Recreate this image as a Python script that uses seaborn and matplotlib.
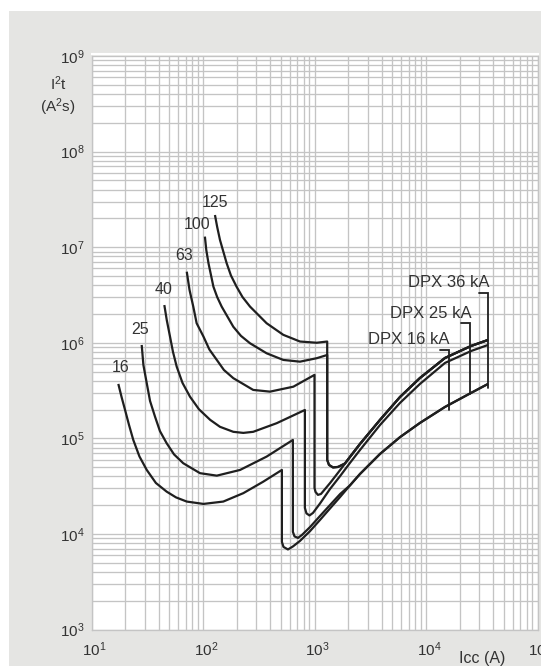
import matplotlib
matplotlib.use("Agg")
import matplotlib.pyplot as plt
from matplotlib.patches import Rectangle
from matplotlib.ticker import LogLocator, LogFormatterSciNotation, NullFormatter
import matplotlib.transforms as mtransforms
import numpy as np
import pandas as pd
import seaborn as sns

# ---------------------------------------------------------------------------
# Let-through energy I²t (A²s) against prospective short-circuit current Icc (A)
# for MCB ratings 16 ... 125 A behind DPX breakers.
# ---------------------------------------------------------------------------

# Current-limiting strands shared by several ratings (high-current part)
strand_icc = [1380, 1700, 2080, 2560, 3870, 5850, 8830, 14800, 25400, 36000]
strand_low_i2t = [1.85e4, 2.44e4, 3.22e4, 4.24e4, 6.87e4, 1.03e5, 1.45e5, 2.13e5, 2.99e5, 3.71e5]
strand_mid_i2t = [2.96e4, 4.04e4, 5.53e4, 7.56e4, 1.38e5, 2.35e5, 3.71e5, 6.15e5, 8.20e5, 9.48e5]
strand_high_i2t = [3.41e4, 4.67e4, 6.39e4, 8.74e4, 1.56e5, 2.71e5, 4.28e5, 6.93e5, 9.26e5, 1.07e6]

# Rating-specific parts (overload branch, peak, instantaneous drop, hook)
icc_16 = [17.4, 18.6, 20.0, 21.7, 23.7, 26.9, 31.3, 37.8, 47.2, 57.3, 71.5, 101, 152, 230, 347, 510,
          510, 527, 578, 641, 741, 912, 1120]
i2t_16 = [3.71e5, 2.71e5, 1.98e5, 1.38e5, 9.62e4, 6.47e4, 4.67e4, 3.41e4, 2.77e4, 2.41e4, 2.18e4,
          2.06e4, 2.18e4, 2.67e4, 3.52e4, 4.67e4,
          8.25e3, 7.31e3, 6.88e3, 7.40e3, 8.45e3, 1.07e4, 1.40e4]

icc_25 = [28.2, 29.2, 31.3, 33.5, 37.1, 41.1, 47.2, 55.0, 66.5, 94.0, 133, 215, 372, 640,
          640, 662, 711, 773, 912, 1120, 1380, 1700]
i2t_25 = [9.48e5, 5.86e5, 3.77e5, 2.46e5, 1.69e5, 1.19e5, 8.89e4, 6.79e4, 5.49e4, 4.32e4, 4.07e4,
          4.67e4, 6.44e4, 9.62e4,
          1.05e4, 9.42e3, 9.08e3, 9.77e3, 1.18e4, 1.54e4, 2.01e4, 2.62e4]

icc_40 = [45.0, 47.3, 50.6, 53.8, 58.1, 65.5, 76.4, 92.1, 116, 142, 187, 230, 282, 458, 820,
          820, 847, 902, 970, 1120]
i2t_40 = [2.48e6, 1.73e6, 1.16e6, 8.02e5, 5.62e5, 3.80e5, 2.73e5, 2.01e5, 1.56e5, 1.32e5, 1.17e5,
          1.14e5, 1.17e5, 1.44e5, 1.98e5,
          1.87e4, 1.64e4, 1.56e4, 1.66e4, 2.08e4]

icc_63 = [71.5, 75.7, 81.8, 87.7, 101, 114, 133, 154, 187, 282, 399, 646, 1000,
          1000, 1021, 1074, 1143]
i2t_63 = [5.54e6, 3.57e6, 2.39e6, 1.60e6, 1.16e6, 8.51e5, 6.61e5, 5.19e5, 4.26e5, 3.21e5, 3.08e5,
          3.47e5, 4.61e5,
          3.03e4, 2.75e4, 2.56e4, 2.62e4]

icc_100 = [104, 107, 112, 124, 134, 147, 187, 219, 264, 372, 525, 741, 1046, 1300]
i2t_100 = [1.29e7, 9.35e6, 6.79e6, 3.86e6, 3.01e6, 2.39e6, 1.47e6, 1.18e6, 9.88e5, 7.76e5, 6.61e5,
           6.34e5, 6.89e5, 7.45e5]

icc_125 = [128, 134, 142, 163, 178, 200, 226, 264, 372, 525, 741, 1046, 1300]
i2t_125 = [2.17e7, 1.63e7, 1.19e7, 6.79e6, 5.06e6, 3.86e6, 3.01e6, 2.39e6, 1.60e6, 1.21e6, 1.03e6,
           1.00e6, 1.03e6]

# Common drop and hook of the 100 A and 125 A curves
icc_tail_100_125 = [1300, 1349, 1466, 1625, 1877]
i2t_tail_100_125 = [5.94e4, 5.27e4, 4.96e4, 5.02e4, 5.46e4]

rating_labels = ["16", "25", "40", "63", "100", "125"]

# DPX breaking-capacity brackets
dpx_labels = ["DPX 16 kA", "DPX 25 kA", "DPX 36 kA"]
dpx_icc = [16000, 25000, 36000]
dpx_top_i2t = [8.41e5, 1.60e6, 3.34e6]
dpx_bottom_i2t = [1.98e5, 2.91e5, 3.34e5]

x_tick_values = [1e1, 1e2, 1e3, 1e4, 1e5]
y_tick_values = [1e3, 1e4, 1e5, 1e6, 1e7, 1e8, 1e9]


def with_strand(own_x, own_y, strand_y):
    xs = list(own_x)
    ys = list(own_y)
    for sx, sy in zip(strand_icc, strand_y):
        if sx > xs[-1]:
            xs.append(sx)
            ys.append(sy)
    return xs, ys


curves = {
    "16": with_strand(icc_16, i2t_16, strand_low_i2t),
    "25": with_strand(icc_25, i2t_25, strand_low_i2t),
    "40": with_strand(icc_40, i2t_40, strand_mid_i2t),
    "63": with_strand(icc_63, i2t_63, strand_high_i2t),
    "100": with_strand(icc_100 + icc_tail_100_125, i2t_100 + i2t_tail_100_125, strand_high_i2t),
    "125": with_strand(icc_125 + icc_tail_100_125, i2t_125 + i2t_tail_100_125, strand_high_i2t),
}

frames = []
for name in rating_labels:
    xs, ys = curves[name]
    frames.append(pd.DataFrame({"Icc": xs, "I2t": ys, "rating": name, "order": np.arange(len(xs))}))
df = pd.concat(frames, ignore_index=True)

# ---------------------------------------------------------------------------
sns.set_style("white")
plt.rcParams["font.family"] = ["Liberation Sans", "DejaVu Sans"]
plt.rcParams["mathtext.fontset"] = "custom"
plt.rcParams["mathtext.rm"] = "Liberation Sans"
plt.rcParams["mathtext.it"] = "Liberation Sans:italic"
plt.rcParams["mathtext.bf"] = "Liberation Sans:bold"

W, H = 541, 666
fig = plt.figure(figsize=(W / 100, H / 100), dpi=100, facecolor="white")
fig.patches.append(Rectangle((8.6 / W, 0), 1, 1 - 11.4 / H, transform=fig.transFigure,
                             facecolor="#e5e5e3", edgecolor="none", zorder=-10))

ax_l, ax_r, ax_t, ax_b = 91.5, 537.5, 56.0, 629.5
ax = fig.add_axes([ax_l / W, 1 - ax_b / H, (ax_r - ax_l) / W, (ax_b - ax_t) / H])
ax.set_facecolor("white")

line_color = "#1f1f1f"
sns.lineplot(data=df, x="Icc", y="I2t", units="rating", estimator=None, sort=False,
             color=line_color, linewidth=1.6, ax=ax, legend=False)
for ln in ax.lines:
    ln.set_solid_joinstyle("round")
    ln.set_solid_capstyle("butt")

ax.set_xscale("log")
ax.set_yscale("log")
ax.set_xlim(1e1, 1e5)
ax.set_ylim(1e3, 1e9)

grid_color = "#c4c4c4"
ax.xaxis.set_minor_locator(LogLocator(base=10, subs=np.arange(2, 10)))
ax.yaxis.set_minor_locator(LogLocator(base=10, subs=np.arange(2, 10)))
ax.xaxis.set_minor_formatter(NullFormatter())
ax.yaxis.set_minor_formatter(NullFormatter())
ax.set_xticks(x_tick_values)
ax.set_yticks(y_tick_values)
ax.xaxis.set_major_formatter(LogFormatterSciNotation())
ax.yaxis.set_major_formatter(LogFormatterSciNotation())
ax.grid(which="both", color=grid_color, linewidth=0.95)
ax.set_axisbelow(True)
for side in ["left", "right", "bottom"]:
    ax.spines[side].set_color(grid_color)
    ax.spines[side].set_linewidth(0.95)
ax.spines["top"].set_color("white")
ax.spines["top"].set_linewidth(1.5)
ax.spines["top"].set_position(("outward", 1.5))

text_color = "#333333"
ax.tick_params(axis="both", which="both", length=0, labelsize=11, labelcolor=text_color)
ax.tick_params(axis="x", pad=8)
ax.tick_params(axis="y", pad=5)
ax.set_xlabel("")
ax.set_ylabel("")
shift = mtransforms.ScaledTranslation(3 / 100, 0, fig.dpi_scale_trans)
for lbl in ax.get_xticklabels():
    lbl.set_transform(lbl.get_transform() + shift)

# rating labels above the start of each curve
label_offsets = {"16": (2, 16), "25": (-2, 15), "40": (-1, 16), "63": (-3, 16), "100": (-8, 12), "125": (0, 13)}
for name in rating_labels:
    xs, ys = curves[name]
    ax.annotate(name, xy=(xs[0], ys[0]), xytext=label_offsets[name], textcoords="offset pixels",
                ha="center", va="center", fontsize=11.5, color=text_color)

# DPX brackets and their labels
for lab, x, top, bottom in zip(dpx_labels, dpx_icc, dpx_top_i2t, dpx_bottom_i2t):
    ax.plot([x * 0.83, x, x], [top, top, bottom], color=line_color, linewidth=1.3,
            solid_joinstyle="miter")
    ax.annotate(lab, xy=(x, top), xytext=(1, 10), textcoords="offset pixels",
                ha="right", va="center", fontsize=12, color=text_color)

fig.text(58 / W, 1 - 96.5 / H, "I$^2$t\n(A$^2$s)", ha="center", va="center", fontsize=11,
         color=text_color, linespacing=1.2)
fig.text(482 / W, 1 - 659 / H, "Icc (A)", ha="center", va="center", fontsize=11.5, color=text_color)

fig.savefig("out.png", dpi=100, facecolor=fig.get_facecolor())
